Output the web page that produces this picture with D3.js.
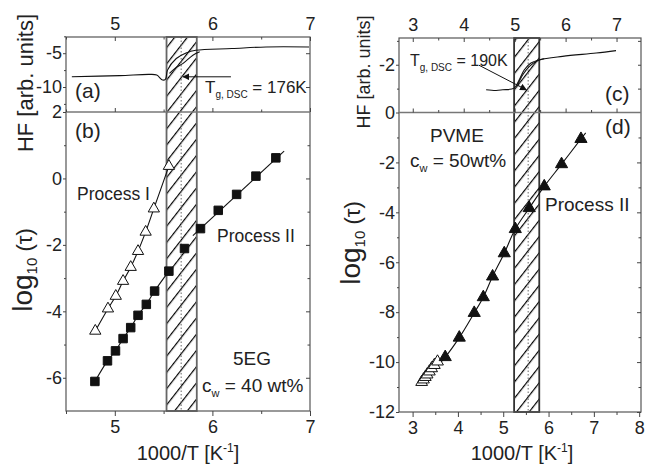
<!DOCTYPE html>
<html>
<head>
<meta charset="utf-8">
<script src="https://cdn.jsdelivr.net/npm/d3@7"></script>
<style>
  body { margin: 0; background: #fff; }
  text { font-family: "Liberation Sans", Arial, sans-serif; fill: #222; }
</style>
</head>
<body>
<div class="chart"></div>
<script>
var svgWidth = 647;
var svgHeight = 466;

// ---- data ----
// (a) DSC heat flow, 5EG, two branches in the glass step
var dscAx = [4.56, 5.05, 5.36, 5.43, 5.49, 5.52, 5.54, 5.63, 5.73, 5.83, 6.2, 6.55, 6.99];
var dscAy = [-8.49, -8.31, -8.13, -8.24, -8.97, -8.82, -7.5, -5.78, -4.96, -4.56, -4.31, -4.07, -4.07];
var dscA2x = [5.56, 5.62, 5.70, 5.80, 5.87];
var dscA2y = [-7.99, -7.2, -6.51, -5.29, -4.78];

// (b) relaxation times, 5EG c_w = 40 wt%
var procIx = [4.80, 4.93, 5.01, 5.085, 5.163, 5.238, 5.316, 5.40, 5.554];
var procIy = [-4.59, -3.92, -3.54, -3.09, -2.67, -2.19, -1.61, -0.91, 0.37];
var procIIx = [4.796, 4.925, 5.007, 5.085, 5.163, 5.238, 5.323, 5.408, 5.554, 5.714, 5.878, 6.06, 6.248, 6.446, 6.65];
var procIIy = [-6.11, -5.49, -5.19, -4.82, -4.49, -4.12, -3.79, -3.39, -2.79, -2.11, -1.51, -0.96, -0.48, 0.07, 0.62];
var fitIIhiX = [5.80, 6.735];
var fitIIhiY = [-1.72, 0.82];

// (c) DSC heat flow, PVME
var dscCx = [4.44, 4.635, 4.765, 4.99, 5.09, 5.19, 5.32, 5.49, 5.94, 6.6, 6.99];
var dscCy = [-0.95, -0.92, -0.95, -1.02, -1.37, -1.79, -2.07, -2.21, -2.35, -2.49, -2.59];
var dscC2x = [5.06, 5.16, 5.29, 5.42, 5.58];
var dscC2y = [-1.16, -1.58, -1.93, -2.14, -2.25];

// (d) relaxation times, PVME c_w = 50 wt%
var pvmeX = [3.72, 4.03, 4.36, 4.56, 4.765, 5.023, 5.266, 5.574, 5.905, 6.287, 6.715];
var pvmeY = [-9.8, -9.02, -8.03, -7.40, -6.57, -5.64, -4.67, -3.83, -2.96, -2.07, -1.06];
var pvmeOpenX = [3.20, 3.24, 3.28, 3.32, 3.37, 3.42, 3.48, 3.55];
var pvmeOpenY = [-10.8, -10.7, -10.6, -10.5, -10.38, -10.25, -10.12, -9.98];
var fitDx = [3.19, 3.72, 4.03, 4.36, 4.56, 4.765, 5.023, 5.266, 5.574, 5.905, 6.287, 6.715, 6.82];
var fitDy = [-10.86, -9.8, -9.02, -8.03, -7.40, -6.57, -5.64, -4.67, -3.83, -2.96, -2.07, -1.06, -0.82];

// glass transition bands (hatched) and DSC Tg (dotted)
var bandB = [5.53, 5.84], tgB = 5.68;
var bandD = [5.24, 5.795], tgD = 5.55;

// tick values
var ticksLx = [5, 6, 7], minorLx = [4.5, 5.5, 6.5];
var ticksA = [-5, -10], minorA = [-2.5, -7.5, -12.5];
var ticksB = [2, 0, -2, -4, -6], minorB = [1, -1, -3, -5];
var ticksRx = [3, 4, 5, 6, 7, 8], minorRx = [3.5, 4.5, 5.5, 6.5, 7.5];
var ticksCx = [3, 4, 5, 6, 7], minorCx = [3.5, 4.5, 5.5, 6.5];
var ticksC = [-2], minorC = [-3, -1];
var ticksD = [0, -2, -4, -6, -8, -10, -12], minorD = [-1, -3, -5, -7, -9, -11];

var svg = d3.select(".chart")
  .append("svg")
  .attr("width", svgWidth)
  .attr("height", svgHeight);

// hatch pattern
svg.append("defs").append("pattern")
  .attr("id", "hatch")
  .attr("patternUnits", "userSpaceOnUse")
  .attr("width", 10).attr("height", 10)
  .attr("patternTransform", "rotate(38)")
  .append("line")
  .attr("x1", 0.6).attr("y1", 0).attr("x2", 0.6).attr("y2", 10)
  .attr("stroke", "#000").attr("stroke-width", 1.2);

svg.select("defs").append("marker")
  .attr("id", "arrow")
  .attr("viewBox", "0 0 10 10")
  .attr("refX", 9).attr("refY", 5)
  .attr("markerWidth", 7).attr("markerHeight", 7)
  .attr("markerUnits", "userSpaceOnUse")
  .attr("orient", "auto")
  .append("path")
  .attr("d", "M0,0L10,5L0,10z")
  .attr("fill", "#111");

// ---- scales ----
var xL = d3.scaleLinear().domain([4.5, 7]).range([66, 310]);
var yA = d3.scaleLinear().domain([-13.7, -2.6]).range([112, 37]);
var yB = d3.scaleLinear().domain([-7, 2]).range([411, 112]);

var xC = d3.scaleLinear().domain([2.73, 7.48]).range([399, 641]);
var xD = d3.scaleLinear().domain([2.7, 8.04]).range([399, 641]);
var yC = d3.scaleLinear().domain([-3.12, 0]).range([38, 112.5]);
var yD = d3.scaleLinear().domain([-12, 0]).range([412, 112.5]);

// axis helper
function axis(make, scale, vals, size, pad, pos, labels) {
  var a = make(scale).tickValues(vals).tickSize(size).tickPadding(pad)
    .tickFormat(labels ? function(d) { return String(d); } : "");
  var g = svg.append("g").attr("transform", pos).call(a);
  g.select(".domain").remove();
  g.selectAll("line").attr("stroke", "#444");
  g.selectAll("text").attr("font-size", 18).attr("fill", "#222")
    .attr("font-family", "Liberation Sans, Arial, sans-serif");
  return g;
}

function band(xs, band, tg, top, bottom, edge) {
  svg.append("rect")
    .attr("x", xs(band[0])).attr("y", top)
    .attr("width", xs(band[1]) - xs(band[0])).attr("height", bottom - top)
    .attr("fill", "url(#hatch)")
    .attr("stroke", edge).attr("stroke-width", 1.8);
  svg.append("line")
    .attr("x1", xs(tg)).attr("x2", xs(tg))
    .attr("y1", top).attr("y2", bottom)
    .attr("stroke", "#666").attr("stroke-width", 1)
    .attr("stroke-dasharray", "1.5,2");
}

function curve(xs, ys, xv, yv, smooth) {
  var pts = xv.map(function(d, i) { return [d, yv[i]]; });
  svg.append("path")
    .attr("d", d3.line()
      .x(function(d) { return xs(d[0]); })
      .y(function(d) { return ys(d[1]); })
      .curve(smooth ? d3.curveCatmullRom : d3.curveLinear)(pts))
    .attr("fill", "none").attr("stroke", "#111").attr("stroke-width", 1.1);
}

function markers(xs, ys, xv, yv, type, size, fill) {
  svg.selectAll(null)
    .data(xv.map(function(d, i) { return [d, yv[i]]; }))
    .enter()
    .append("path")
    .attr("transform", function(d) { return "translate(" + xs(d[0]) + "," + ys(d[1]) + ")"; })
    .attr("d", d3.symbol().type(type).size(size))
    .attr("fill", fill)
    .attr("stroke", "#111").attr("stroke-width", 1);
}

// ================= left figure =================
band(xL, bandB, tgB, 37, 411, "#666");

svg.append("rect").attr("x", 66).attr("y", 37).attr("width", 244).attr("height", 374)
  .attr("fill", "none").attr("stroke", "#555").attr("stroke-width", 1.2);
svg.append("line").attr("x1", 66).attr("x2", 310).attr("y1", 112).attr("y2", 112)
  .attr("stroke", "#777").attr("stroke-width", 1.6);

// x axes
axis(d3.axisBottom, xL, ticksLx, 5, 4, "translate(0,411)", true);
axis(d3.axisBottom, xL, minorLx, 3, 4, "translate(0,411)", false);
axis(d3.axisTop, xL, ticksLx, 0, 7, "translate(0,37)", true);
axis(d3.axisBottom, xL, ticksLx, 4, 0, "translate(0,37)", false);
axis(d3.axisBottom, xL, minorLx, 2.5, 0, "translate(0,37)", false);
axis(d3.axisTop, xL, ticksLx, 4, 0, "translate(0,112)", false);
axis(d3.axisTop, xL, minorLx, 2.5, 0, "translate(0,112)", false);
// y axes
axis(d3.axisLeft, yA, ticksA, 3, 1, "translate(66,0)", true);
axis(d3.axisLeft, yA, minorA, 2, 1, "translate(66,0)", false);
axis(d3.axisLeft, yB, ticksB, 3, 1, "translate(66,0)", true);
axis(d3.axisLeft, yB, minorB, 2, 1, "translate(66,0)", false);
axis(d3.axisLeft, yA, ticksA, 4, 0, "translate(310,0)", false);
axis(d3.axisLeft, yB, ticksB.slice(1), 4, 0, "translate(310,0)", false);
axis(d3.axisLeft, yB, minorB, 2.5, 0, "translate(310,0)", false);

// (a) DSC curve
curve(xL, yA, dscAx, dscAy, true);
curve(xL, yA, dscA2x, dscA2y, true);
svg.append("line")
  .attr("x1", xL(6.19)).attr("y1", yA(-8.49))
  .attr("x2", xL(5.70)).attr("y2", yA(-8.49))
  .attr("stroke", "#111").attr("stroke-width", 1)
  .attr("marker-end", "url(#arrow)");

// (b) fits and points
curve(xL, yB, procIx, procIy, true);
curve(xL, yB, procIIx.slice(0, 9), procIIy.slice(0, 9), true);
curve(xL, yB, fitIIhiX, fitIIhiY, false);
markers(xL, yB, procIx, procIy, d3.symbolTriangle, 55, "#fff");
markers(xL, yB, procIIx, procIIy, d3.symbolSquare, 72, "#111");

// ================= right figure =================
band(xD, bandD, tgD, 38, 412, "#333");

svg.append("rect").attr("x", 399).attr("y", 38).attr("width", 242).attr("height", 374)
  .attr("fill", "none").attr("stroke", "#555").attr("stroke-width", 1.2);
svg.append("line").attr("x1", 399).attr("x2", 641).attr("y1", 112.5).attr("y2", 112.5)
  .attr("stroke", "#777").attr("stroke-width", 1.6);

axis(d3.axisBottom, xD, ticksRx, 5, 4, "translate(0,412)", true);
axis(d3.axisBottom, xD, minorRx, 3, 4, "translate(0,412)", false);
axis(d3.axisTop, xC, ticksCx, 0, 7, "translate(0,38)", true);
axis(d3.axisBottom, xC, ticksCx, 4, 0, "translate(0,38)", false);
axis(d3.axisBottom, xC, minorCx, 2.5, 0, "translate(0,38)", false);
axis(d3.axisTop, xC, ticksCx, 4, 0, "translate(0,112.5)", false);
axis(d3.axisTop, xC, minorCx, 2.5, 0, "translate(0,112.5)", false);
axis(d3.axisLeft, yC, ticksC, 3, 1, "translate(399,0)", true);
axis(d3.axisLeft, yC, minorC, 2, 1, "translate(399,0)", false);
axis(d3.axisLeft, yD, ticksD, 3, 1, "translate(399,0)", true);
axis(d3.axisLeft, yD, minorD, 2, 1, "translate(399,0)", false);
axis(d3.axisLeft, yC, ticksC.concat(minorC), 3, 0, "translate(641,0)", false);
axis(d3.axisLeft, yD, ticksD.slice(1), 4, 0, "translate(641,0)", false);
axis(d3.axisLeft, yD, minorD, 2.5, 0, "translate(641,0)", false);

// (c) DSC curve
curve(xC, yC, dscCx, dscCy, true);
curve(xC, yC, dscC2x, dscC2y, true);
svg.append("line")
  .attr("x1", xC(4.3)).attr("y1", yC(-1.98))
  .attr("x2", xC(5.23)).attr("y2", yC(-0.95))
  .attr("stroke", "#111").attr("stroke-width", 1)
  .attr("marker-end", "url(#arrow)");

// (d) fit and points
curve(xD, yD, fitDx, fitDy, true);
markers(xD, yD, pvmeOpenX, pvmeOpenY, d3.symbolTriangle, 60, "#fff");
markers(xD, yD, pvmeX, pvmeY, d3.symbolTriangle, 64, "#111");

// ================= texts =================
function label(x, y, size, parts, rotate, anchor) {
  var t = svg.append("text")
    .attr("font-size", size)
    .attr("text-anchor", anchor || "start");
  if (rotate) t.attr("transform", "translate(" + x + "," + y + ") rotate(-90)");
  else t.attr("x", x).attr("y", y);
  var shift = 0;
  parts.forEach(function(p) {
    var s = p[1] || 0;
    t.append("tspan")
      .attr("font-size", p[2] || size)
      .attr("dy", s - shift)
      .text(p[0]);
    shift = s;
  });
  return t;
}

// left figure
label(75, 98, 21, [["(a)"]]);
label(75, 138, 21, [["(b)"]]);
label(205, 93, 17, [["T"], ["g, DSC", 5, 10], [" = 176K", 0]]);
label(77, 200, 17.5, [["Process I"]]);
label(217, 242, 17.5, [["Process II"]]);
label(252, 365, 19, [["5EG"]], false, "middle");
label(202, 392, 19, [["c"], ["w", 5, 11], [" = 40 wt%", 0]]);
label(188, 460, 20, [["1000/T [K"], ["-1", -8, 12], ["]", 0]], false, "middle");
label(33, 83, 22, [["HF [arb. units]"]], true, "middle");
label(32, 270, 28, [["log"], ["10", 5, 15], [" (τ)", 0, 22]], true, "middle");

// right figure
label(605, 101, 21, [["(c)"]]);
label(605, 134, 21, [["(d)"]]);
label(410, 66, 16, [["T"], ["g, DSC", 5, 10], [" = 190K", 0]]);
label(430, 142, 19, [["PVME"]]);
label(410, 167, 19, [["c"], ["w", 5, 11], [" = 50wt%", 0]]);
label(545, 211, 19, [["Process II"]]);
label(522, 460, 20, [["1000/T [K"], ["-1", -8, 12], ["]", 0]], false, "middle");
label(370, 72, 18, [["HF [arb. units]"]], true, "middle");
label(360, 243, 28, [["log"], ["10", 5, 15], [" (τ)", 0, 22]], true, "middle");
</script>
</body>
</html>
